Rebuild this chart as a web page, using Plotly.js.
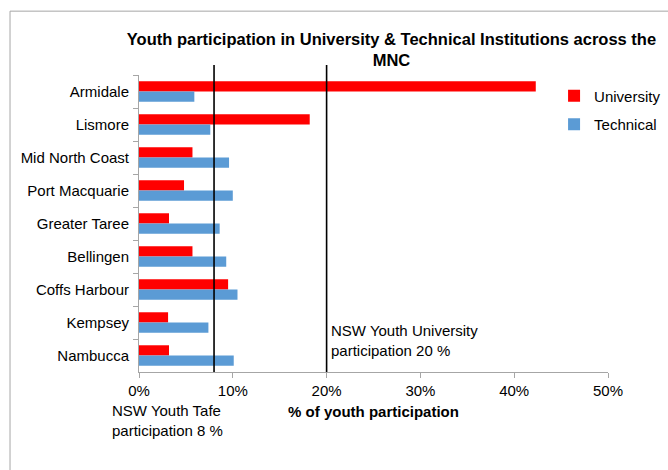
<!DOCTYPE html>
<html>
<head>
<meta charset="utf-8">
<script src="https://cdn.plot.ly/plotly-3.0.1.min.js"></script>
<style>
  html, body { margin: 0; padding: 0; background: #fff; }
  #chart { width: 668px; height: 470px; }
</style>
</head>
<body>
<div id="chart"></div>
<script>
const categories = ["Armidale", "Lismore", "Mid North Coast", "Port Macquarie", "Greater Taree", "Bellingen", "Coffs Harbour", "Kempsey", "Nambucca"];
const university = [42.3, 18.2, 5.7, 4.8, 3.2, 5.7, 9.5, 3.1, 3.2];
const technical = [5.9, 7.6, 9.6, 10.0, 8.6, 9.3, 10.5, 7.4, 10.1];
const tafeBenchmark = 8;
const uniBenchmark = 20;
const xTicks = [0, 10, 20, 30, 40, 50];
const xTickText = ["0%", "10%", "20%", "30%", "40%", "50%"];

const font = "Arial, 'Liberation Sans', sans-serif";

const traces = [
  { type: "bar", orientation: "h", name: "University", y: categories, x: university,
    marker: { color: "#FF0000" }, legendgroup: "u" },
  { type: "bar", orientation: "h", name: "Technical", y: categories, x: technical,
    marker: { color: "#5B9BD5" }, legendgroup: "t" }
];

const layout = {
  width: 668, height: 470,
  paper_bgcolor: "#fff", plot_bgcolor: "#fff",
  font: { family: font, size: 15, color: "#000" },
  margin: { l: 139, r: 60, t: 75, b: 98, autoexpand: false },
  barmode: "group", bargap: 0.38, bargroupgap: 0,
  title: {
    text: "<b>Youth participation in University & Technical Institutions across the<br>MNC</b>",
    font: { family: font, size: 16.5, color: "#000" },
    x: 0.586, xref: "container", xanchor: "center",
    y: 0.905, yref: "container", yanchor: "middle"
  },
  xaxis: {
    range: [0, 50], tickvals: xTicks, ticktext: xTickText,
    showgrid: false, zeroline: false,
    showline: true, linecolor: "#a6a6a6", linewidth: 1,
    ticks: "outside", ticklen: 5, tickcolor: "#a6a6a6",
    tickfont: { size: 15 },
    title: { text: "<b>% of youth participation</b>", font: { size: 15 }, standoff: 8 }
  },
  yaxis: {
    autorange: "reversed", type: "category",
    showgrid: false, zeroline: false,
    showline: true, linecolor: "#a6a6a6", linewidth: 1,
    ticks: "outside", ticklen: 5, tickcolor: "#a6a6a6",
    tickson: "boundaries",
    tickfont: { size: 15 }, ticklabelstandoff: 6
  },
  legend: {
    x: 0.885, xanchor: "left", y: 0.985, yanchor: "top",
    font: { size: 15 }, traceorder: "grouped", tracegroupgap: 6,
    itemwidth: 30, bgcolor: "rgba(0,0,0,0)"
  },
  shapes: [
    { type: "line", xref: "x", yref: "paper", x0: tafeBenchmark, x1: tafeBenchmark, y0: 0, y1: 1.034,
      line: { color: "#000", width: 1.6 } },
    { type: "line", xref: "x", yref: "paper", x0: uniBenchmark, x1: uniBenchmark, y0: 0, y1: 1.034,
      line: { color: "#000", width: 1.6 } },
    { type: "rect", xref: "paper", yref: "paper", x0: -0.275, x1: 1.2, y0: -0.4, y1: 1.215,
      line: { color: "#a6a6a6", width: 1 }, fillcolor: "rgba(0,0,0,0)" }
  ],
  annotations: [
    { xref: "x", yref: "paper", x: uniBenchmark, y: 0.176, xanchor: "left", yanchor: "top",
      xshift: 2, align: "left", showarrow: false,
      text: "NSW Youth University<br>participation 20 %", font: { size: 15 } },
    { xref: "x", yref: "paper", x: tafeBenchmark, y: -0.095, xanchor: "center", yanchor: "top",
      xshift: -47, align: "left", showarrow: false,
      text: "NSW Youth Tafe<br>participation 8 %", font: { size: 15 } }
  ]
};

Plotly.newPlot("chart", traces, layout, { displayModeBar: false, staticPlot: true });
</script>
</body>
</html>
